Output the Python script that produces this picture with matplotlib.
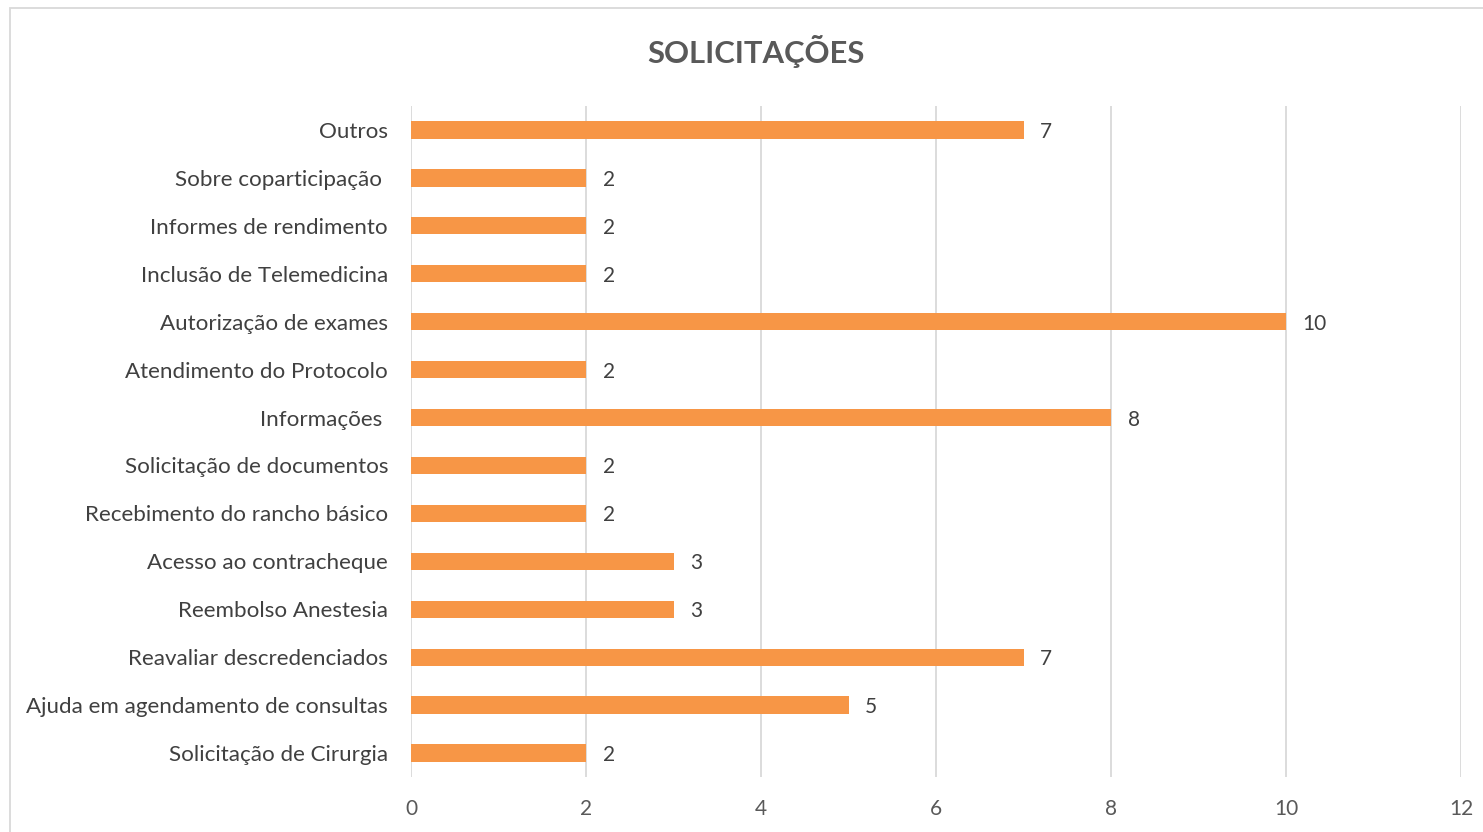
import matplotlib
matplotlib.use("Agg")
import matplotlib.pyplot as plt
from matplotlib.patches import Rectangle

# categories from bottom to top
categorias = ["Solicitação de Cirurgia", "Ajuda em agendamento de consultas",
              "Reavaliar descredenciados", "Reembolso Anestesia",
              "Acesso ao contracheque", "Recebimento do rancho básico",
              "Solicitação de documentos", "Informações ", "Atendimento do Protocolo",
              "Autorização de exames", "Inclusão de Telemedicina",
              "Informes de rendimento", "Sobre coparticipação ", "Outros"]
valores = [2, 5, 7, 3, 3, 2, 2, 8, 2, 10, 2, 2, 2, 7]
ticks_x = [0, 2, 4, 6, 8, 10, 12]

cor_barra = "#F79646"
cor_texto = "#595959"
plt.rcParams['font.family'] = ['Lato', 'DejaVu Sans']

fig = plt.figure(figsize=(14.83, 8.32), dpi=100)
ax = fig.add_axes([411/1483, 1-777/832, (1461-411)/1483, (777-106)/832])

y = list(range(len(categorias)))
ax.barh(y, valores, height=0.36, color=cor_barra, zorder=3)
for yi, v in zip(y, valores):
    ax.text(v + 0.19, yi, str(v), va="center_baseline", ha="left", fontsize=15, color="#404040")

ax.set_xlim(0, 12)
ax.set_ylim(-0.5, len(categorias) - 0.5)
ax.set_xticks(ticks_x)
ax.set_xticklabels([str(t) for t in ticks_x], fontsize=15, color=cor_texto)
ax.set_yticks(y)
ax.set_yticklabels(categorias, fontsize=16.1, color="#404040")
ax.tick_params(length=0)
ax.tick_params(axis="x", pad=16)
ax.tick_params(axis="y", pad=16.5)
for lbl in ax.get_yticklabels():
    lbl.set_verticalalignment("center_baseline")
ax.grid(axis="x", color="#D9D9D9", linewidth=1.3, zorder=0)
for s in ax.spines.values():
    s.set_visible(False)

fig.text(756/1483, 1-51/832, "SOLICITAÇÕES", ha="center", va="center",
         fontsize=22.3, fontweight="bold", color=cor_texto)

# chart frame
fig.patches.append(Rectangle((10/1483, -0.01), 1.1, 1-8/832+0.01, transform=fig.transFigure,
                             fill=False, edgecolor="#D9D9D9", linewidth=1.3))

fig.savefig("out.png", dpi=100)
